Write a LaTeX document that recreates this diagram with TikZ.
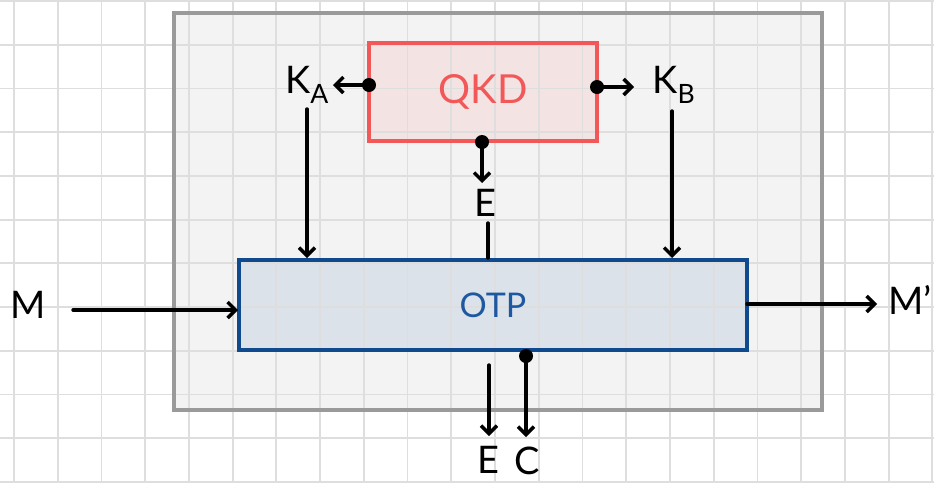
\documentclass[tikz,border=0pt]{standalone}
\usepackage{fontspec}
\setmainfont{Lato}
\usetikzlibrary{arrows.meta}

\definecolor{gridline}{HTML}{DEDEDE}
\definecolor{sysfill}{HTML}{F3F3F3}
\definecolor{sysline}{HTML}{9A9A9A}
\definecolor{qkdline}{HTML}{F25858}
\definecolor{qkdfill}{HTML}{F4E3E3}
\definecolor{otpline}{HTML}{0F4A8E}
\definecolor{otpfill}{HTML}{DBE2EA}
\definecolor{otptext}{HTML}{1D58A0}

\tikzset{
  sysbox/.style={draw=sysline, line width=3.6pt, fill=sysfill, minimum width=648pt, minimum height=397pt, inner sep=0pt},
  qkdbox/.style={draw=qkdline, line width=3.4pt, fill=qkdfill, minimum width=228pt, minimum height=98pt, inner sep=0pt,
    text=qkdline, font=\fontsize{40}{44}\selectfont},
  otpbox/.style={draw=otpline, line width=3.4pt, fill=otpfill, minimum width=508pt, minimum height=90pt, inner sep=0pt,
    text=otptext, font=\fontsize{34}{38}\selectfont},
  lbl/.style={inner sep=0pt, font=\fontsize{38}{42}\selectfont},
  flow/.style={line width=3.4pt, line cap=round, -{Straight Barb[length=8pt,width=16pt,line width=3.4pt]}},
  plain/.style={line width=3.4pt, line cap=round},
  dotend/.style={fill=black, circle, inner sep=0pt, minimum size=14pt},
}

\begin{document}
\begin{tikzpicture}[x=1pt,y=-1pt]
\useasboundingbox (0,0) rectangle (934,483);
\fill[white] (0,0) rectangle (934,483);

% box fills first, so the grid shows through them
\node[sysbox, draw=none] (sysf) at (498,211.5) {};
\node[qkdbox, draw=none] (qkdf) at (483,92) {};
\node[otpbox, draw=none] (otpf) at (493,303) {};

% squared paper
\foreach \k in {0,...,21} \draw[gridline, line width=1.8pt] (14+43.73*\k,0) -- (14+43.73*\k,483);
\foreach \k in {0,...,11} \draw[gridline, line width=1.8pt] (0,1+43.73*\k) -- (934,1+43.73*\k);

% outlines and titles
\node[sysbox, fill=none] (sys) at (498,211.5) {};
\node[qkdbox, fill=none] (qkd) at (483,92) {QKD};
\node[otpbox, fill=none] (otp) at (493,305) {OTP};

% labels
\node[lbl] (ka) at (307,85) {K\textsubscript{A}};
\node[lbl] (kb) at (674,85) {K\textsubscript{B}};
\node[lbl] (e1) at (485,203) {E};
\node[lbl] (m) at (28,305) {M};
\node[lbl] (mp) at (910,300) {M’};
\node[lbl] (e2) at (488,460) {E};
\node[lbl] (c) at (527,461) {C};

% attachment points on the boxes
\coordinate (qa) at (369,85);
\coordinate (qb) at (597,87);
\coordinate (qe) at (482,142);
\coordinate (oc) at (526,356);
\coordinate (ka-in) at (307,258);
\coordinate (kb-in) at (672,258);
\coordinate (e-in) at (488,258);
\coordinate (m-in) at (238,310);
\coordinate (mp-out) at (747,304);
\coordinate (e2-out) at (489,365);

% key outputs of QKD
\node[dotend] at (qa) {};
\draw[flow] (qa) -- (333,85);
\node[dotend] at (qb) {};
\draw[flow] (qb) -- (634,87);
\node[dotend] at (qe) {};
\draw[flow] (qe) -- (482,183);

% keys and E into OTP
\draw[flow] (307,109) -- (ka-in);
\draw[flow] (672,111) -- (kb-in);
\draw[plain] (488,223) -- (e-in);

% message in and out
\draw[flow] (73,310) -- (m-in);
\draw[flow] (mp-out) -- (877,304);

% outputs below OTP
\draw[flow] (e2-out) -- (489,436);
\node[dotend] at (oc) {};
\draw[flow] (oc) -- (526,437);
\end{tikzpicture}
\end{document}
